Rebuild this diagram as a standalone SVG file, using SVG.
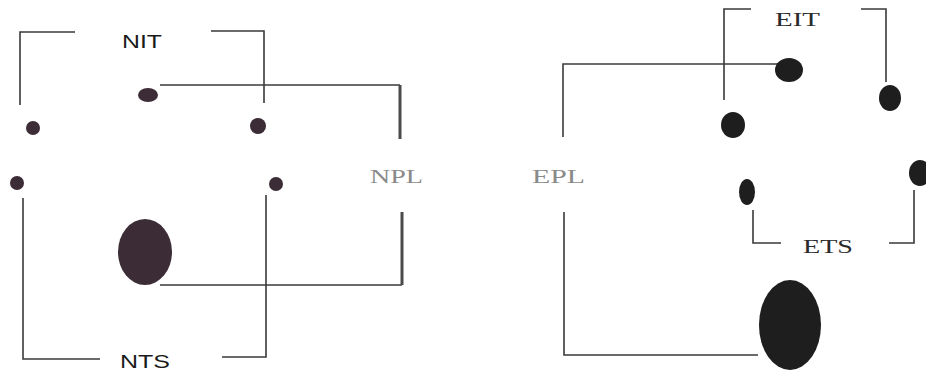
<svg xmlns="http://www.w3.org/2000/svg" width="926" height="371" viewBox="0 0 926 371">
<style>
.ln{fill:none;stroke:#3a3a3a;stroke-width:1.6}
.thk{fill:none;stroke:#4a4a4a;stroke-width:3}
.dotN{fill:#3b2c36}
.dotE{fill:#1e1e1e}
.sans{font-family:"Liberation Sans",Arial,sans-serif;font-size:18px;fill:#1a1a1a}
.serif{font-family:"Liberation Serif","Times New Roman",serif;font-size:18px;fill:#2a2a2a}
.gray{font-family:"Liberation Serif","Times New Roman",serif;font-size:19px;fill:#8a8a8a}
</style>
<rect width="926" height="371" fill="#ffffff"/>
<g id="connectors">
  <!-- NIT bracket -->
  <path class="ln" d="M75,32 H20 V105"/>
  <path class="ln" d="M211,31 H264 V103"/>
  <!-- NPL upper -->
  <path class="ln" d="M160,85 H400"/>
  <path class="thk" d="M400,85 V139"/>
  <!-- NPL lower -->
  <path class="ln" d="M160,285 H402"/>
  <path class="thk" d="M402,285 V212"/>
  <!-- NTS bracket -->
  <path class="ln" d="M23,198 V359 H100"/>
  <path class="ln" d="M266,195 V357 H222"/>
  <!-- EIT bracket -->
  <path class="ln" d="M751,9 H724 V100"/>
  <path class="ln" d="M861,9 H886 V82"/>
  <!-- EPL upper -->
  <path class="ln" d="M780,64 H563 V137"/>
  <!-- EPL lower -->
  <path class="ln" d="M564,212 V355 H758"/>
  <!-- ETS bracket -->
  <path class="ln" d="M753,210 V243 H781"/>
  <path class="ln" d="M889,243 H914 V190"/>
</g>
<g id="label-NIT"><text class="sans" x="122" y="48" textLength="40" lengthAdjust="spacingAndGlyphs">NIT</text></g>
<g id="label-NTS"><text class="sans" x="120" y="368" textLength="50" lengthAdjust="spacingAndGlyphs">NTS</text></g>
<g id="label-NPL"><text class="gray" x="370" y="183" textLength="53" lengthAdjust="spacingAndGlyphs">NPL</text></g>
<g id="label-EPL"><text class="gray" x="532" y="183" textLength="53" lengthAdjust="spacingAndGlyphs">EPL</text></g>
<g id="label-EIT"><text class="serif" x="775" y="26" textLength="45" lengthAdjust="spacingAndGlyphs">EIT</text></g>
<g id="label-ETS"><text class="serif" x="803" y="253" textLength="50" lengthAdjust="spacingAndGlyphs">ETS</text></g>
<g id="N-dot-top"><ellipse class="dotN" cx="148" cy="95" rx="10" ry="7"/></g>
<g id="N-dot-1"><ellipse class="dotN" cx="33" cy="128" rx="7" ry="7"/></g>
<g id="N-dot-2"><ellipse class="dotN" cx="258" cy="126" rx="8" ry="8"/></g>
<g id="N-dot-3"><ellipse class="dotN" cx="17" cy="183" rx="7" ry="7"/></g>
<g id="N-dot-4"><ellipse class="dotN" cx="276" cy="184" rx="7" ry="7"/></g>
<g id="N-big"><ellipse class="dotN" cx="145" cy="252" rx="27" ry="33"/></g>
<g id="E-dot-top"><ellipse class="dotE" cx="789" cy="70" rx="14" ry="12"/></g>
<g id="E-dot-1"><ellipse class="dotE" cx="733" cy="125" rx="12" ry="13"/></g>
<g id="E-dot-2"><ellipse class="dotE" cx="890" cy="98" rx="11" ry="13"/></g>
<g id="E-dot-3"><ellipse class="dotE" cx="747" cy="192" rx="8" ry="13"/></g>
<g id="E-dot-4"><ellipse class="dotE" cx="920" cy="173" rx="11" ry="13"/></g>
<g id="E-big"><ellipse class="dotE" cx="790" cy="325" rx="31" ry="45"/></g>
</svg>
